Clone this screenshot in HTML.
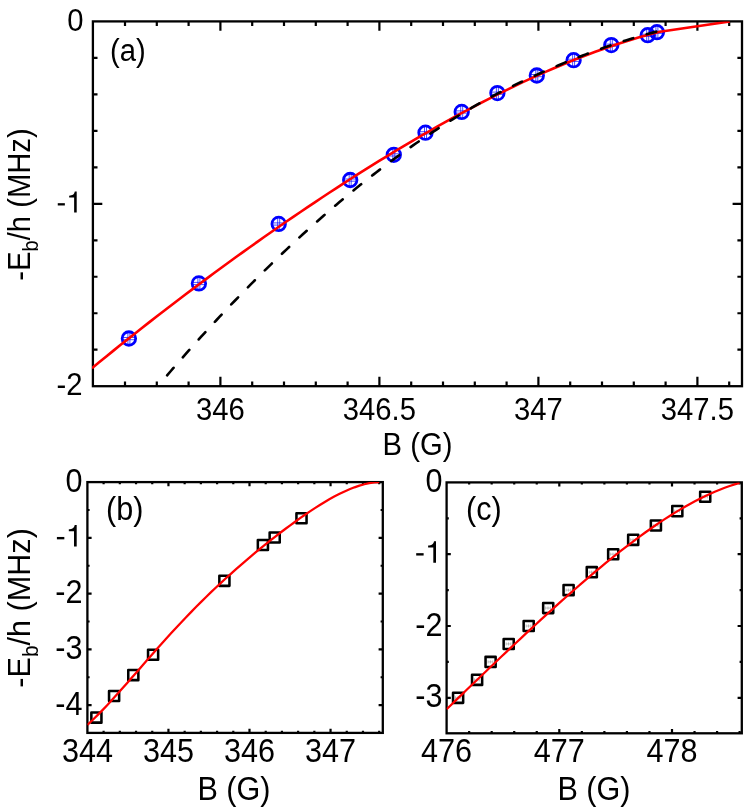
<!DOCTYPE html>
<html><head><meta charset="utf-8"><title>Binding energy</title>
<style>
html,body{margin:0;padding:0;background:#fff;}
svg{display:block;will-change:transform;}
text{font-family:"Liberation Sans",sans-serif;fill:#000;}
</style></head><body>
<svg width="747" height="809" viewBox="0 0 747 809">
<rect width="747" height="809" fill="#fff"/>
<rect x="92.90" y="21.40" width="649.10" height="364.80" fill="none" stroke="#000" stroke-width="2.3"/>
<path d="M220.40 386.20V376.80M220.40 21.40V30.80M379.40 386.20V376.80M379.40 21.40V30.80M538.40 386.20V376.80M538.40 21.40V30.80M697.40 386.20V376.80M697.40 21.40V30.80" stroke="#000" stroke-width="2.2" fill="none"/>
<path d="M125.00 386.20V381.60M125.00 21.40V26.00M156.80 386.20V381.60M156.80 21.40V26.00M188.60 386.20V381.60M188.60 21.40V26.00M252.20 386.20V381.60M252.20 21.40V26.00M284.00 386.20V381.60M284.00 21.40V26.00M315.80 386.20V381.60M315.80 21.40V26.00M347.60 386.20V381.60M347.60 21.40V26.00M411.20 386.20V381.60M411.20 21.40V26.00M443.00 386.20V381.60M443.00 21.40V26.00M474.80 386.20V381.60M474.80 21.40V26.00M506.60 386.20V381.60M506.60 21.40V26.00M570.20 386.20V381.60M570.20 21.40V26.00M602.00 386.20V381.60M602.00 21.40V26.00M633.80 386.20V381.60M633.80 21.40V26.00M665.60 386.20V381.60M665.60 21.40V26.00M729.20 386.20V381.60M729.20 21.40V26.00" stroke="#000" stroke-width="2.2" fill="none"/>
<path d="M92.90 203.80H102.30M742.00 203.80H732.60" stroke="#000" stroke-width="2.2" fill="none"/>
<path d="M92.90 57.88H97.50M742.00 57.88H737.40M92.90 94.36H97.50M742.00 94.36H737.40M92.90 130.84H97.50M742.00 130.84H737.40M92.90 167.32H97.50M742.00 167.32H737.40M92.90 240.28H97.50M742.00 240.28H737.40M92.90 276.76H97.50M742.00 276.76H737.40M92.90 313.24H97.50M742.00 313.24H737.40M92.90 349.72H97.50M742.00 349.72H737.40" stroke="#000" stroke-width="2.2" fill="none"/>
<text transform="translate(220.40 420.00) scale(0.975 1.07)" font-size="30" text-anchor="middle" >346</text>
<text transform="translate(379.40 420.00) scale(0.975 1.07)" font-size="30" text-anchor="middle" >346.5</text>
<text transform="translate(538.40 420.00) scale(0.975 1.07)" font-size="30" text-anchor="middle" >347</text>
<text transform="translate(697.40 420.00) scale(0.975 1.07)" font-size="30" text-anchor="middle" >347.5</text>
<text transform="translate(83.50 30.90) scale(0.975 1.07)" font-size="30" text-anchor="end" >0</text>
<text transform="translate(82.50 394.60) scale(0.975 1.07)" font-size="30" text-anchor="end" >-2</text>
<rect x="57.76" y="203.18" width="7.10" height="2.30" fill="#000"/>
<path transform="translate(66.21 212.50) scale(0.02923 -0.0295)" d="M359 0H271V505H101V568C211 575 270 600 294 709H359Z" fill="#000"/>
<text transform="translate(417.50 454.60) scale(0.975 1.07)" font-size="30" text-anchor="middle" >B (G)</text>
<text transform="translate(109.90 61.30) scale(0.975 1.07)" font-size="30" text-anchor="start" >(a)</text>
<text transform="translate(29.60 204.50) rotate(-90) scale(0.975 1.07)" font-size="30" text-anchor="middle">-E<tspan font-size="20.5" dy="7.8">b</tspan><tspan dy="-7.8">/h (MHz)</tspan></text>
<rect x="87.40" y="482.10" width="295.40" height="250.80" fill="none" stroke="#000" stroke-width="2.3"/>
<path d="M168.45 732.90V728.70M168.45 482.10V486.30M249.50 732.90V728.70M249.50 482.10V486.30M330.55 732.90V728.70M330.55 482.10V486.30" stroke="#000" stroke-width="2.2" fill="none"/>
<path d="M103.61 732.90V730.70M103.61 482.10V484.30M119.82 732.90V730.70M119.82 482.10V484.30M136.03 732.90V730.70M136.03 482.10V484.30M152.24 732.90V730.70M152.24 482.10V484.30M184.66 732.90V730.70M184.66 482.10V484.30M200.87 732.90V730.70M200.87 482.10V484.30M217.08 732.90V730.70M217.08 482.10V484.30M233.29 732.90V730.70M233.29 482.10V484.30M265.71 732.90V730.70M265.71 482.10V484.30M281.92 732.90V730.70M281.92 482.10V484.30M298.13 732.90V730.70M298.13 482.10V484.30M314.34 732.90V730.70M314.34 482.10V484.30M346.76 732.90V730.70M346.76 482.10V484.30M362.97 732.90V730.70M362.97 482.10V484.30M379.18 732.90V730.70M379.18 482.10V484.30" stroke="#000" stroke-width="2.2" fill="none"/>
<path d="M87.40 537.85H91.60M382.80 537.85H378.60M87.40 593.60H91.60M382.80 593.60H378.60M87.40 649.35H91.60M382.80 649.35H378.60M87.40 705.10H91.60M382.80 705.10H378.60" stroke="#000" stroke-width="2.2" fill="none"/>
<path d="M87.40 509.98H89.60M382.80 509.98H380.60M87.40 565.73H89.60M382.80 565.73H380.60M87.40 621.48H89.60M382.80 621.48H380.60M87.40 677.23H89.60M382.80 677.23H380.60" stroke="#000" stroke-width="2.2" fill="none"/>
<text transform="translate(87.40 761.60) scale(1.02 1.08)" font-size="30" text-anchor="middle" >344</text>
<text transform="translate(168.45 761.60) scale(1.02 1.08)" font-size="30" text-anchor="middle" >345</text>
<text transform="translate(249.50 761.60) scale(1.02 1.08)" font-size="30" text-anchor="middle" >346</text>
<text transform="translate(330.55 761.60) scale(1.02 1.08)" font-size="30" text-anchor="middle" >347</text>
<text transform="translate(82.50 491.60) scale(1.02 1.08)" font-size="30" text-anchor="end" >0</text>
<text transform="translate(82.50 603.10) scale(1.02 1.08)" font-size="30" text-anchor="end" >-2</text>
<text transform="translate(82.50 658.85) scale(1.02 1.08)" font-size="30" text-anchor="end" >-3</text>
<text transform="translate(82.50 714.60) scale(1.02 1.08)" font-size="30" text-anchor="end" >-4</text>
<rect x="56.90" y="536.96" width="7.43" height="2.38" fill="#000"/>
<path transform="translate(65.73 546.60) scale(0.03056 -0.0305)" d="M359 0H271V505H101V568C211 575 270 600 294 709H359Z" fill="#000"/>
<text transform="translate(234.00 800.40) scale(1.02 1.08)" font-size="30" text-anchor="middle" >B (G)</text>
<text transform="translate(106.00 520.10) scale(1.02 1.08)" font-size="30" text-anchor="start" >(b)</text>
<text transform="translate(30.20 607.90) rotate(-90) scale(1.02 1.045)" font-size="30" text-anchor="middle">-E<tspan font-size="20.5" dy="7.8">b</tspan><tspan dy="-7.8">/h (MHz)</tspan></text>
<rect x="446.60" y="482.40" width="295.20" height="250.90" fill="none" stroke="#000" stroke-width="2.3"/>
<path d="M559.30 733.30V729.10M559.30 482.40V486.60M672.00 733.30V729.10M672.00 482.40V486.60" stroke="#000" stroke-width="2.2" fill="none"/>
<path d="M469.14 733.30V731.10M469.14 482.40V484.60M491.68 733.30V731.10M491.68 482.40V484.60M514.22 733.30V731.10M514.22 482.40V484.60M536.76 733.30V731.10M536.76 482.40V484.60M581.84 733.30V731.10M581.84 482.40V484.60M604.38 733.30V731.10M604.38 482.40V484.60M626.92 733.30V731.10M626.92 482.40V484.60M649.46 733.30V731.10M649.46 482.40V484.60M694.54 733.30V731.10M694.54 482.40V484.60M717.08 733.30V731.10M717.08 482.40V484.60M739.62 733.30V731.10M739.62 482.40V484.60" stroke="#000" stroke-width="2.2" fill="none"/>
<path d="M446.60 554.20H450.80M741.80 554.20H737.60M446.60 626.00H450.80M741.80 626.00H737.60M446.60 697.80H450.80M741.80 697.80H737.60" stroke="#000" stroke-width="2.2" fill="none"/>
<path d="M446.60 518.30H448.80M741.80 518.30H739.60M446.60 590.10H448.80M741.80 590.10H739.60M446.60 661.90H448.80M741.80 661.90H739.60" stroke="#000" stroke-width="2.2" fill="none"/>
<text transform="translate(446.60 761.60) scale(1.02 1.08)" font-size="30" text-anchor="middle" >476</text>
<text transform="translate(559.30 761.60) scale(1.02 1.08)" font-size="30" text-anchor="middle" >477</text>
<text transform="translate(672.00 761.60) scale(1.02 1.08)" font-size="30" text-anchor="middle" >478</text>
<text transform="translate(442.50 491.90) scale(1.02 1.08)" font-size="30" text-anchor="end" >0</text>
<text transform="translate(442.50 635.50) scale(1.02 1.08)" font-size="30" text-anchor="end" >-2</text>
<text transform="translate(442.50 707.30) scale(1.02 1.08)" font-size="30" text-anchor="end" >-3</text>
<rect x="416.20" y="553.16" width="7.43" height="2.38" fill="#000"/>
<path transform="translate(425.03 562.80) scale(0.03056 -0.0305)" d="M359 0H271V505H101V568C211 575 270 600 294 709H359Z" fill="#000"/>
<text transform="translate(594.00 800.40) scale(1.02 1.08)" font-size="30" text-anchor="middle" >B (G)</text>
<text transform="translate(466.00 519.50) scale(1.02 1.08)" font-size="30" text-anchor="start" >(c)</text>
<clipPath id="ca"><rect x="92.0" y="21.4" width="650.0" height="364.8"/></clipPath>
<g clip-path="url(#ca)">
<circle cx="128.9" cy="338.5" r="6.75" fill="none" stroke="#0000ff" stroke-width="2.8"/>
<path d="M127.9 332.5V344.5M129.9 332.5V344.5M122.9 337.5H134.9M122.9 339.7H134.9" stroke="#0000ff" stroke-width="0.7" fill="none"/>
<circle cx="198.9" cy="283.4" r="6.75" fill="none" stroke="#0000ff" stroke-width="2.8"/>
<path d="M197.9 277.4V289.4M199.9 277.4V289.4M192.9 282.4H204.9M192.9 284.59999999999997H204.9" stroke="#0000ff" stroke-width="0.7" fill="none"/>
<circle cx="278.7" cy="223.9" r="6.75" fill="none" stroke="#0000ff" stroke-width="2.8"/>
<path d="M277.7 217.9V229.9M279.7 217.9V229.9M272.7 222.9H284.7M272.7 225.1H284.7" stroke="#0000ff" stroke-width="0.7" fill="none"/>
<circle cx="350.2" cy="180.0" r="6.75" fill="none" stroke="#0000ff" stroke-width="2.8"/>
<path d="M349.2 174.0V186.0M351.2 174.0V186.0M344.2 179.0H356.2M344.2 181.2H356.2" stroke="#0000ff" stroke-width="0.7" fill="none"/>
<circle cx="393.8" cy="154.8" r="6.75" fill="none" stroke="#0000ff" stroke-width="2.8"/>
<path d="M392.8 148.8V160.8M394.8 148.8V160.8M387.8 153.8H399.8M387.8 156.0H399.8" stroke="#0000ff" stroke-width="0.7" fill="none"/>
<circle cx="425.5" cy="132.7" r="6.75" fill="none" stroke="#0000ff" stroke-width="2.8"/>
<path d="M424.5 126.69999999999999V138.7M426.5 126.69999999999999V138.7M419.5 131.7H431.5M419.5 133.89999999999998H431.5" stroke="#0000ff" stroke-width="0.7" fill="none"/>
<circle cx="461.7" cy="111.9" r="6.75" fill="none" stroke="#0000ff" stroke-width="2.8"/>
<path d="M460.7 105.9V117.9M462.7 105.9V117.9M455.7 110.9H467.7M455.7 113.10000000000001H467.7" stroke="#0000ff" stroke-width="0.7" fill="none"/>
<circle cx="497.4" cy="93.1" r="6.75" fill="none" stroke="#0000ff" stroke-width="2.8"/>
<path d="M496.4 87.1V99.1M498.4 87.1V99.1M491.4 92.1H503.4M491.4 94.3H503.4" stroke="#0000ff" stroke-width="0.7" fill="none"/>
<circle cx="536.8" cy="75.5" r="6.75" fill="none" stroke="#0000ff" stroke-width="2.8"/>
<path d="M535.8 69.5V81.5M537.8 69.5V81.5M530.8 74.5H542.8M530.8 76.7H542.8" stroke="#0000ff" stroke-width="0.7" fill="none"/>
<circle cx="573.6" cy="60.2" r="6.75" fill="none" stroke="#0000ff" stroke-width="2.8"/>
<path d="M572.6 54.2V66.2M574.6 54.2V66.2M567.6 59.2H579.6M567.6 61.400000000000006H579.6" stroke="#0000ff" stroke-width="0.7" fill="none"/>
<circle cx="611.3" cy="45.1" r="6.75" fill="none" stroke="#0000ff" stroke-width="2.8"/>
<path d="M610.3 39.1V51.1M612.3 39.1V51.1M605.3 44.1H617.3M605.3 46.300000000000004H617.3" stroke="#0000ff" stroke-width="0.7" fill="none"/>
<circle cx="647.7" cy="35.2" r="6.75" fill="none" stroke="#0000ff" stroke-width="2.8"/>
<path d="M646.7 29.200000000000003V41.2M648.7 29.200000000000003V41.2M641.7 34.2H653.7M641.7 36.400000000000006H653.7" stroke="#0000ff" stroke-width="0.7" fill="none"/>
<circle cx="656.9" cy="32.2" r="6.75" fill="none" stroke="#0000ff" stroke-width="2.8"/>
<path d="M655.9 26.200000000000003V38.2M657.9 26.200000000000003V38.2M650.9 31.200000000000003H662.9M650.9 33.400000000000006H662.9" stroke="#0000ff" stroke-width="0.7" fill="none"/>
<path d="M91.90 368.19 L99.09 362.30 L106.28 356.45 L113.47 350.63 L120.66 344.86 L127.86 339.12 L135.05 333.42 L142.24 327.75 L149.43 322.12 L156.62 316.53 L163.81 310.97 L171.00 305.45 L178.19 299.96 L185.38 294.51 L192.58 289.09 L199.77 283.71 L206.96 278.36 L214.15 273.04 L221.34 267.76 L228.53 262.51 L235.72 257.30 L242.91 252.12 L250.11 246.98 L257.30 241.87 L264.49 236.80 L271.68 231.76 L278.87 226.76 L286.06 221.80 L293.25 216.87 L300.44 211.97 L307.63 207.12 L314.83 202.30 L322.02 197.52 L329.21 192.77 L336.40 188.07 L343.59 183.40 L350.78 178.78 L357.97 174.20 L365.16 169.65 L372.35 165.15 L379.55 160.70 L386.74 156.28 L393.93 151.91 L401.12 147.59 L408.31 143.31 L415.50 139.08 L422.69 134.89 L429.88 130.76 L437.07 126.67 L444.27 122.64 L451.46 118.65 L458.65 114.72 L465.84 110.85 L473.03 107.03 L480.22 103.26 L487.41 99.56 L494.60 95.91 L501.79 92.32 L508.99 88.80 L516.18 85.33 L523.37 81.94 L530.56 78.60 L537.75 75.34 L544.94 72.14 L552.13 69.02 L559.32 65.96 L566.52 62.98 L573.71 60.07 L580.90 57.25 L588.09 54.50 L595.28 51.83 L602.47 49.24 L609.66 46.73 L616.85 44.31 L624.04 41.98 L631.24 39.74 L638.43 37.59 L645.62 35.53 L652.81 33.57 L660.00 31.70 L729.80 21.50" stroke="#ff0000" stroke-width="2.6" fill="none" stroke-linejoin="round" />
<path d="M167.10 375.34 L170.18 371.77 L173.26 368.21 L176.34 364.68 L179.41 361.15 L182.49 357.65 L185.57 354.16 L188.65 350.69 L191.73 347.24 L194.81 343.81 L197.89 340.39 L200.96 336.99 L204.04 333.61 L207.12 330.24 L210.20 326.89 L213.28 323.56 L216.36 320.25 L219.44 316.95 L222.52 313.67 L225.59 310.41 L228.67 307.17 L231.75 303.94 L234.83 300.73 L237.91 297.54 L240.99 294.36 L244.07 291.21 L247.14 288.07 L250.22 284.94 L253.30 281.84 L256.38 278.75 L259.46 275.68 L262.54 272.63 L265.62 269.59 L268.69 266.57 L271.77 263.57 L274.85 260.59 L277.93 257.62 L281.01 254.68 L284.09 251.75 L287.17 248.83 L290.24 245.94 L293.32 243.06 L296.40 240.20 L299.48 237.36 L302.56 234.54 L305.64 231.73 L308.72 228.94 L311.79 226.17 L314.87 223.42 L317.95 220.69 L321.03 217.97 L324.11 215.27 L327.19 212.59 L330.27 209.93 L333.35 207.29 L336.42 204.67 L339.50 202.06 L342.58 199.47 L345.66 196.90 L348.74 194.35 L351.82 191.82 L354.90 189.30 L357.97 186.81 L361.05 184.33 L364.13 181.87 L367.21 179.43 L370.29 177.01 L373.37 174.61 L376.45 172.23 L379.52 169.87 L382.60 167.52 L385.68 165.20 L388.76 162.89 L391.84 160.60 L394.92 158.34 L398.00 156.09 L401.07 153.86 L404.15 151.65 L407.23 149.46 L410.31 147.29 L413.39 145.14 L416.47 143.01 L419.55 140.90 L422.63 138.81 L425.70 136.73 L428.78 134.68 L431.86 132.64 L434.94 130.62 L438.02 128.62 L441.10 126.64 L444.18 124.67 L447.25 122.72 L450.33 120.78 L453.41 118.86 L456.49 116.96 L459.57 115.07 L462.65 113.19 L465.73 111.33 L468.80 109.49 L471.88 107.68 L474.96 105.88 L478.04 104.11 L481.12 102.37 L484.20 100.65 L487.28 98.96 L490.35 97.31 L493.43 95.68 L496.51 94.07 L499.59 92.50 L502.67 90.95 L505.75 89.42 L508.83 87.91 L511.91 86.41 L514.98 84.93 L518.06 83.45 L521.14 82.00 L524.22 80.55 L527.30 79.11 L530.38 77.69 L533.46 76.29 L536.53 74.89 L539.61 73.51 L542.69 72.14 L545.77 70.78 L548.85 69.44 L551.93 68.11 L555.01 66.79 L558.08 65.48 L561.16 64.19 L564.24 62.92 L567.32 61.65 L570.40 60.40 L573.48 59.17 L576.56 57.94 L579.63 56.74 L582.71 55.54 L585.79 54.37 L588.87 53.20 L591.95 52.05 L595.03 50.92 L598.11 49.80 L601.18 48.69 L604.26 47.60 L607.34 46.53 L610.42 45.47 L613.50 44.43 L616.58 43.40 L619.66 42.39 L622.74 41.40 L625.81 40.42 L628.89 39.46 L631.97 38.51 L635.05 37.59 L638.13 36.68 L641.21 35.78 L644.29 34.90 L647.36 34.04 L650.44 33.20 L653.52 32.38 L656.60 31.57" stroke="#000" stroke-width="2.6" fill="none" stroke-linejoin="round" stroke-dasharray="9.9 14.0" stroke-linecap="round"/>
</g>
<clipPath id="cb"><rect x="87.4" y="482.1" width="295.4" height="250.79999999999995"/></clipPath>
<g clip-path="url(#cb)">
<rect x="91.35" y="712.55" width="10.1" height="10.1" fill="none" stroke="#000" stroke-width="2.55" stroke-linejoin="round"/>
<rect x="109.05" y="690.95" width="10.1" height="10.1" fill="none" stroke="#000" stroke-width="2.55" stroke-linejoin="round"/>
<rect x="128.25" y="670.05" width="10.1" height="10.1" fill="none" stroke="#000" stroke-width="2.55" stroke-linejoin="round"/>
<rect x="148.05" y="649.65" width="10.1" height="10.1" fill="none" stroke="#000" stroke-width="2.55" stroke-linejoin="round"/>
<rect x="219.35" y="575.75" width="10.1" height="10.1" fill="none" stroke="#000" stroke-width="2.55" stroke-linejoin="round"/>
<rect x="257.85" y="539.95" width="10.1" height="10.1" fill="none" stroke="#000" stroke-width="2.55" stroke-linejoin="round"/>
<rect x="269.65" y="532.45" width="10.1" height="10.1" fill="none" stroke="#000" stroke-width="2.55" stroke-linejoin="round"/>
<rect x="296.45" y="513.15" width="10.1" height="10.1" fill="none" stroke="#000" stroke-width="2.55" stroke-linejoin="round"/>
<path d="M87.40 724.84 L92.35 720.25 L97.29 715.42 L102.24 710.38 L107.18 705.17 L112.13 699.82 L117.07 694.36 L122.02 688.82 L126.97 683.21 L131.91 677.57 L136.86 671.90 L141.80 666.23 L146.75 660.57 L151.69 654.93 L156.64 649.33 L161.59 643.78 L166.53 638.29 L171.48 632.86 L176.42 627.50 L181.37 622.21 L186.32 617.00 L191.26 611.87 L196.21 606.83 L201.15 601.86 L206.10 596.98 L211.04 592.18 L215.99 587.47 L220.94 582.83 L225.88 578.28 L230.83 573.80 L235.77 569.39 L240.72 565.05 L245.66 560.79 L250.61 556.59 L255.56 552.46 L260.50 548.39 L265.45 544.39 L270.39 540.45 L275.34 536.57 L280.28 532.76 L285.23 529.01 L290.18 525.33 L295.12 521.73 L300.07 518.20 L305.01 514.75 L309.96 511.40 L314.91 508.14 L319.85 505.00 L324.80 501.98 L329.74 499.09 L334.69 496.35 L339.63 493.79 L344.58 491.41 L349.53 489.24 L354.47 487.31 L359.42 485.64 L364.36 484.25 L369.31 483.19 L374.25 482.48 L379.20 482.15" stroke="#ff0000" stroke-width="2.25" fill="none" stroke-linejoin="round" />
</g>
<clipPath id="cc"><rect x="446.6" y="482.4" width="295.19999999999993" height="250.89999999999998"/></clipPath>
<g clip-path="url(#cc)">
<path d="M455.50 697.80H460.30M455.50 696.20v3.2M460.30 696.20v3.2M457.90 696.20v3.2" stroke="#888" stroke-width="0.5" fill="none"/>
<rect x="453.05" y="692.75" width="10.1" height="10.1" fill="none" stroke="#000" stroke-width="2.55" stroke-linejoin="round"/>
<path d="M474.50 679.85H479.30M474.50 678.25v3.2M479.30 678.25v3.2M476.90 678.25v3.2" stroke="#888" stroke-width="0.5" fill="none"/>
<rect x="472.05" y="674.80" width="10.1" height="10.1" fill="none" stroke="#000" stroke-width="2.55" stroke-linejoin="round"/>
<path d="M488.00 661.90H492.80M488.00 660.30v3.2M492.80 660.30v3.2M490.40 660.30v3.2" stroke="#888" stroke-width="0.5" fill="none"/>
<rect x="485.55" y="656.85" width="10.1" height="10.1" fill="none" stroke="#000" stroke-width="2.55" stroke-linejoin="round"/>
<path d="M506.10 643.95H510.90M506.10 642.35v3.2M510.90 642.35v3.2M508.50 642.35v3.2" stroke="#888" stroke-width="0.5" fill="none"/>
<rect x="503.65" y="638.90" width="10.1" height="10.1" fill="none" stroke="#000" stroke-width="2.55" stroke-linejoin="round"/>
<path d="M526.10 626.00H530.90M526.10 624.40v3.2M530.90 624.40v3.2M528.50 624.40v3.2" stroke="#888" stroke-width="0.5" fill="none"/>
<rect x="523.65" y="620.95" width="10.1" height="10.1" fill="none" stroke="#000" stroke-width="2.55" stroke-linejoin="round"/>
<path d="M545.60 608.05H550.40M545.60 606.45v3.2M550.40 606.45v3.2M548.00 606.45v3.2" stroke="#888" stroke-width="0.5" fill="none"/>
<rect x="543.15" y="603.00" width="10.1" height="10.1" fill="none" stroke="#000" stroke-width="2.55" stroke-linejoin="round"/>
<path d="M566.00 590.10H570.80M566.00 588.50v3.2M570.80 588.50v3.2M568.40 588.50v3.2" stroke="#888" stroke-width="0.5" fill="none"/>
<rect x="563.55" y="585.05" width="10.1" height="10.1" fill="none" stroke="#000" stroke-width="2.55" stroke-linejoin="round"/>
<path d="M589.20 572.15H594.00M589.20 570.55v3.2M594.00 570.55v3.2M591.60 570.55v3.2" stroke="#888" stroke-width="0.5" fill="none"/>
<rect x="586.75" y="567.10" width="10.1" height="10.1" fill="none" stroke="#000" stroke-width="2.55" stroke-linejoin="round"/>
<path d="M610.60 554.20H615.40M610.60 552.60v3.2M615.40 552.60v3.2M613.00 552.60v3.2" stroke="#888" stroke-width="0.5" fill="none"/>
<rect x="608.15" y="549.15" width="10.1" height="10.1" fill="none" stroke="#000" stroke-width="2.55" stroke-linejoin="round"/>
<path d="M630.60 539.84H635.40M630.60 538.24v3.2M635.40 538.24v3.2M633.00 538.24v3.2" stroke="#888" stroke-width="0.5" fill="none"/>
<rect x="628.15" y="534.79" width="10.1" height="10.1" fill="none" stroke="#000" stroke-width="2.55" stroke-linejoin="round"/>
<path d="M653.30 525.48H658.10M653.30 523.88v3.2M658.10 523.88v3.2M655.70 523.88v3.2" stroke="#888" stroke-width="0.5" fill="none"/>
<rect x="650.85" y="520.43" width="10.1" height="10.1" fill="none" stroke="#000" stroke-width="2.55" stroke-linejoin="round"/>
<path d="M674.70 511.12H679.50M674.70 509.52v3.2M679.50 509.52v3.2M677.10 509.52v3.2" stroke="#888" stroke-width="0.5" fill="none"/>
<rect x="672.25" y="506.07" width="10.1" height="10.1" fill="none" stroke="#000" stroke-width="2.55" stroke-linejoin="round"/>
<path d="M702.60 496.76H707.40M702.60 495.16v3.2M707.40 495.16v3.2M705.00 495.16v3.2" stroke="#888" stroke-width="0.5" fill="none"/>
<rect x="700.15" y="491.71" width="10.1" height="10.1" fill="none" stroke="#000" stroke-width="2.55" stroke-linejoin="round"/>
<path d="M446.60 709.31 L451.57 704.47 L456.53 699.64 L461.50 694.83 L466.46 690.03 L471.43 685.24 L476.40 680.46 L481.36 675.69 L486.33 670.94 L491.29 666.20 L496.26 661.47 L501.23 656.76 L506.19 652.06 L511.16 647.38 L516.13 642.72 L521.09 638.07 L526.06 633.44 L531.02 628.84 L535.99 624.25 L540.96 619.69 L545.92 615.15 L550.89 610.63 L555.85 606.15 L560.82 601.69 L565.79 597.27 L570.75 592.87 L575.72 588.52 L580.68 584.19 L585.65 579.91 L590.62 575.67 L595.58 571.48 L600.55 567.33 L605.52 563.23 L610.48 559.18 L615.45 555.18 L620.41 551.24 L625.38 547.37 L630.35 543.55 L635.31 539.80 L640.28 536.12 L645.24 532.52 L650.21 528.99 L655.18 525.54 L660.14 522.17 L665.11 518.89 L670.07 515.71 L675.04 512.61 L680.01 509.62 L684.97 506.73 L689.94 503.94 L694.91 501.27 L699.87 498.71 L704.84 496.27 L709.80 493.95 L714.77 491.77 L719.74 489.72 L724.70 487.80 L729.67 486.03 L734.63 484.41 L739.60 482.94" stroke="#ff0000" stroke-width="2.25" fill="none" stroke-linejoin="round" />
</g>
</svg>
</body></html>
